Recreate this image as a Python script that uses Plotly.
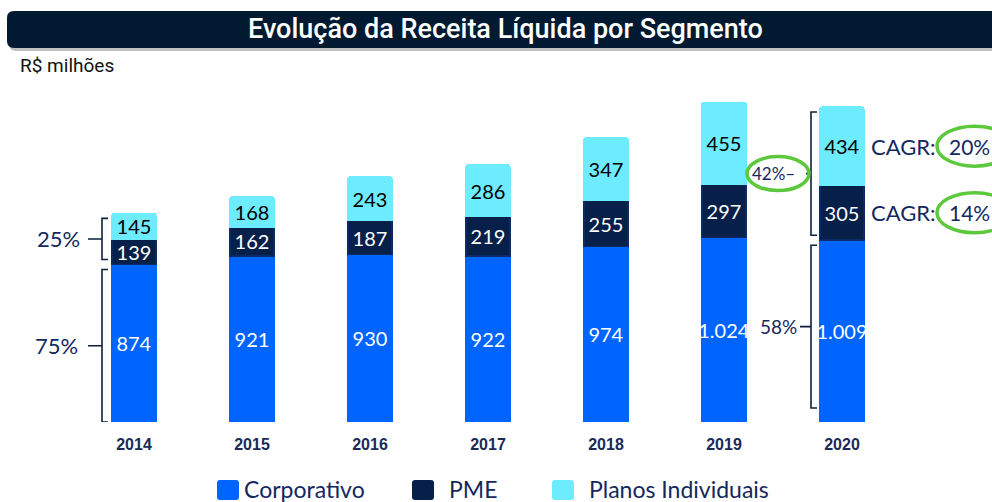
import plotly.graph_objects as go

# ---- data ----
years = ["2014", "2015", "2016", "2017", "2018", "2019", "2020"]
corporativo = [874, 921, 930, 922, 974, 1024, 1009]
pme = [139, 162, 187, 219, 255, 297, 305]
planos = [145, 168, 243, 286, 347, 455, 434]
series_names = ["Corporativo", "PME", "Planos Individuais"]
series_colors = ["#0064FF", "#06204A", "#6DEBFF"]
share_2014 = ["25%", "75%"]      # PME+Planos, Corporativo
share_2020 = ["42%", "58%"]      # PME+Planos, Corporativo
cagr_labels = ["20%", "14%"]     # Planos, PME
title_text = "Evolução da Receita Líquida por Segmento"
unit_text = "R$ milhões"

# ---- geometry (pixels) ----
W_PX, H_PX = 992, 502
L, R, T, B = 75, 91, 102, 80
PW = W_PX - L - R
PH = H_PX - T - B

totals = [a + b + c for a, b, c in zip(corporativo, pme, planos)]
ymax = max(totals)
upx = ymax / PH  # data units per pixel


def px(x):
    return (x - L) / PW


def py(y):
    return (T + PH - y) / PH


def rrect(x0, y0, x1, y1, r):
    X = lambda v: px(v)
    Y = lambda v: py(v)
    return (f"M {X(x0+r)},{Y(y0)} L {X(x1-r)},{Y(y0)} Q {X(x1)},{Y(y0)} {X(x1)},{Y(y0+r)} "
            f"L {X(x1)},{Y(y1-r)} Q {X(x1)},{Y(y1)} {X(x1-r)},{Y(y1)} "
            f"L {X(x0+r)},{Y(y1)} Q {X(x0)},{Y(y1)} {X(x0)},{Y(y1-r)} "
            f"L {X(x0)},{Y(y0+r)} Q {X(x0)},{Y(y0)} {X(x0+r)},{Y(y0)} Z")


fig = go.Figure()
text_colors = ["white", "white", "black"]
line_colors = ["#0064FF", "#0B2A66", "#6DEBFF"]
for name, vals, col, tcol, lcol in zip(series_names, [corporativo, pme, planos],
                                       series_colors, text_colors, line_colors):
    fig.add_trace(go.Bar(
        x=years, y=vals, name=name,
        marker=dict(color=col, line=dict(color=lcol, width=1.5)),
        texttemplate="%{y:,.0f}", textposition="inside", insidetextanchor="middle",
        textangle=0, constraintext="none",
        textfont=dict(family="Lato", size=20, color=tcol),
        showlegend=False, hoverinfo="skip",
    ))

shapes = []
annotations = []
NAVY = "#0D1F3C"
TXT = "#14285E"


def note(x, y, text, size, color=TXT, family="Lato", xanchor="center", yref="paper", weight="normal"):
    annotations.append(dict(xref="paper", yref=yref, x=x, y=y, text=text, showarrow=False,
                            xanchor=xanchor, yanchor="middle",
                            font=dict(family=family, size=size, color=color, weight=weight)))


# title bar with shadow
shapes.append(dict(type="path", xref="paper", yref="paper", path=rrect(9, 13, 1004, 51, 7),
                   fillcolor="rgba(0,0,0,0.25)", line=dict(width=0), layer="below"))
shapes.append(dict(type="path", xref="paper", yref="paper", path=rrect(7, 11, 1002, 48, 7),
                   fillcolor="#011A31", line=dict(width=0), layer="below"))
note(px(505), py(29), title_text, 27, color="white", family="Roboto", weight=500)
note(px(18), py(66), unit_text, 19, color="#111111", family="Roboto", xanchor="left")


def bracket(xv, hook, y0, y1, tick_to, ym=None):
    if ym is None:
        ym = (y0 + y1) / 2
    return dict(type="path", xref="paper", yref="y",
                path=(f"M {px(xv+hook)},{y0} L {px(xv)},{y0} L {px(xv)},{y1} L {px(xv+hook)},{y1} "
                      f"M {px(xv)},{ym} L {px(tick_to)},{ym}"),
                line=dict(color=NAVY, width=1.6))


gap = 5 * upx
# 2014 brackets
i0 = 0
up0, up1 = corporativo[i0] + gap, totals[i0] - gap
lo0, lo1 = 0, corporativo[i0] - gap
shapes.append(bracket(102, 6, up0, up1, 88))
shapes.append(bracket(102, 6, lo0, lo1, 88))
note(px(82), (up0 + up1) / 2, share_2014[0], 22, xanchor="right", yref="y")
note(px(80), (lo0 + lo1) / 2, share_2014[1], 22, xanchor="right", yref="y")

# 2020 brackets
i1 = 6
u0, u1 = corporativo[i1] + gap, totals[i1] - gap
l0, l1 = 14 * upx, corporativo[i1] - gap
shapes.append(bracket(811, 6, u0, u1, 806))
shapes.append(bracket(811, 6, l0, l1, 800))
um = (u0 + u1) / 2
GREEN = "#5CC83C"
shapes.append(dict(type="circle", xref="paper", yref="y", x0=px(747), x1=px(809),
                   y0=um - 17 * upx, y1=um + 17 * upx, line=dict(color=GREEN, width=3.5)))
note(px(773), um, share_2020[0] + "–", 17, yref="y")
note(px(799), (l0 + l1) / 2, share_2020[1], 19, xanchor="right", yref="y")

# CAGR labels for 2020
cagr_y = [corporativo[i1] + pme[i1] + planos[i1] / 2, corporativo[i1] + pme[i1] / 2]
for lab, yc in zip(cagr_labels, cagr_y):
    note(px(869), yc, "CAGR:", 22, xanchor="left", yref="y")
    note(px(947), yc, lab, 21, xanchor="left", yref="y")
    shapes.append(dict(type="circle", xref="paper", yref="y", x0=px(937), x1=px(1012),
                       y0=yc - 20 * upx, y1=yc + 20 * upx, line=dict(color=GREEN, width=3.5)))

# manual legend
leg_x = [217, 412, 552]
leg_tx = [242, 447, 587]
for name, col, sx, tx in zip(series_names, series_colors, leg_x, leg_tx):
    shapes.append(dict(type="path", xref="paper", yref="paper", path=rrect(sx, 480, sx + 22, 500, 3),
                       fillcolor=col, line=dict(width=0)))
    note(px(tx), py(489), name, 23, xanchor="left")

fig.update_layout(
    width=W_PX, height=H_PX,
    margin=dict(l=L, r=R, t=T, b=B, pad=0),
    barmode="stack", bargap=0.627, barcornerradius=3,
    separators=",.",
    paper_bgcolor="white", plot_bgcolor="white",
    xaxis=dict(type="category", range=[-0.5, 6.5], showgrid=False, zeroline=False, showline=False,
               ticks="outside", ticklen=8, tickcolor="rgba(0,0,0,0)",
               tickfont=dict(family="Liberation Sans", size=16, color="#1B2A57", weight="bold")),
    yaxis=dict(range=[0, ymax], visible=False, showgrid=False, zeroline=False),
    shapes=shapes, annotations=annotations,
    showlegend=False,
)

fig.write_html("out.html", config={"displayModeBar": False},
               post_script="document.body.style.margin='0';document.body.style.overflow='hidden';")
